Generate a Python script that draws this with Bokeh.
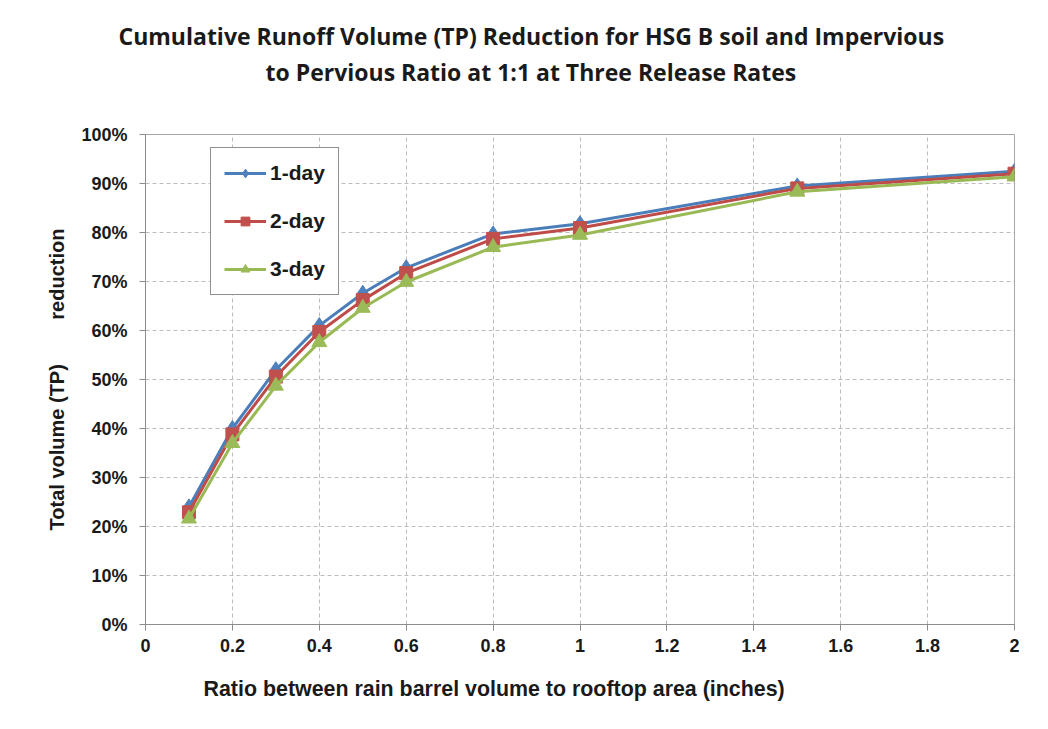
from bokeh.plotting import figure
from bokeh.models import (Range1d, Legend, LegendItem, FixedTicker, Title,
                          PrintfTickFormatter, ColumnDataSource)
from bokeh.embed import file_html
from bokeh.resources import INLINE

# ---- data ----
ratio = [0.1, 0.2, 0.3, 0.4, 0.5, 0.6, 0.8, 1.0, 1.5, 2.0]
one_day = [24.0, 40.0, 52.0, 61.0, 67.6, 72.8, 79.7, 81.8, 89.5, 92.5]
two_day = [22.9, 38.8, 50.6, 59.7, 66.2, 71.7, 78.7, 80.9, 89.0, 92.0]
three_day = [21.6, 37.0, 48.7, 57.6, 64.6, 69.9, 77.0, 79.5, 88.3, 91.4]
series_names = ["1-day", "2-day", "3-day"]
x_ticks = [0, 0.2, 0.4, 0.6, 0.8, 1.0, 1.2, 1.4, 1.6, 1.8, 2.0]
y_ticks = [0, 10, 20, 30, 40, 50, 60, 70, 80, 90, 100]
title_lines = ["Cumulative Runoff Volume (TP) Reduction for HSG B soil  and Impervious",
               "to Pervious Ratio at 1:1 at Three Release Rates"]
x_label = "Ratio between rain barrel volume to rooftop area (inches)"
y_label = "Total volume (TP)" + "\u00a0" * 8 + "reduction"

FONT = "Liberation Sans"
TXT = "#1a1a1a"

p = figure(width=1040, height=720, output_backend="svg", toolbar_location=None,
           x_range=Range1d(0, 2), y_range=Range1d(0, 100),
           min_border_left=145, min_border_right=26, min_border_top=134,
           min_border_bottom=95)
p.title = None
p.background_fill_color = "white"
p.border_fill_color = "white"
p.outline_line_color = "#a6a6a6"
p.outline_line_width = 1

# grid
for g in (p.xgrid, p.ygrid):
    g.grid_line_color = "#bdbdbd"
    g.grid_line_dash = "4 3"
    g.grid_line_width = 1
p.xgrid.ticker = FixedTicker(ticks=x_ticks)
p.ygrid.ticker = FixedTicker(ticks=y_ticks)

# axes
p.xaxis.ticker = FixedTicker(ticks=x_ticks)
p.yaxis.ticker = FixedTicker(ticks=y_ticks)
p.yaxis.formatter = PrintfTickFormatter(format="%d%%")
for ax in (p.xaxis[0], p.yaxis[0]):
    ax.axis_line_color = "#8c8c8c"
    ax.major_tick_line_color = "#8c8c8c"
    ax.major_tick_out = 6
    ax.major_tick_in = 0
    ax.minor_tick_line_color = None
    ax.major_label_text_font = FONT
    ax.major_label_text_font_style = "bold"
    ax.major_label_text_font_size = "18px"
    ax.major_label_text_color = TXT
p.xaxis.major_label_standoff = 8
p.yaxis.major_label_standoff = 12
p.yaxis.axis_label = y_label
p.yaxis.axis_label_text_font = FONT
p.yaxis.axis_label_text_font_style = "bold"
p.yaxis.axis_label_text_font_size = "20px"
p.yaxis.axis_label_text_color = TXT
p.yaxis.axis_label_standoff = 10

colors_line = ["#4A7EBB", "#BE4B48", "#98B954"]
colors_fill = ["#4F81BD", "#C0504D", "#9BBB59"]
all_values = [one_day, two_day, three_day]
markers = ["diamond", "square", "triangle"]
sizes = [16, 13, 15]

items = []
for name, vals, lc, fc, mk, sz in zip(series_names, all_values, colors_line,
                                      colors_fill, markers, sizes):
    src = ColumnDataSource(dict(x=ratio, y=vals))
    r1 = p.line("x", "y", source=src, line_color=lc, line_width=3)
    r2 = p.scatter("x", "y", source=src, marker=mk, size=sz, fill_color=fc,
                   line_color=fc)
    items.append(LegendItem(label=name, renderers=[r1, r2]))

legend = Legend(items=items, location=(65, 329))
legend.label_text_font = FONT
legend.label_text_font_style = "bold"
legend.label_text_font_size = "21px"
legend.label_text_color = TXT
legend.glyph_width = 42
legend.glyph_height = 22
legend.label_height = 22
legend.label_standoff = 4
legend.spacing = 24
legend.padding = 13
legend.margin = 0
legend.border_line_color = "#222222"
legend.border_line_width = 1
legend.background_fill_color = "white"
legend.background_fill_alpha = 1
p.add_layout(legend, "center")

# titles: an empty spacer next to the frame, then line 2, then line 1
spacer = Title(text="\u00a0", standoff=29, text_font="Open Sans",
               text_font_size="10px", text_color="white")
t2 = Title(text=title_lines[1], align="left", offset=120, standoff=4,
           text_font="Open Sans", text_font_style="bold", text_font_size="23px",
           text_color=TXT)
t1 = Title(text=title_lines[0], align="left", offset=-27, standoff=0,
           text_font="Open Sans", text_font_style="bold", text_font_size="23px",
           text_color=TXT)
p.add_layout(spacer, "above")
p.add_layout(t2, "above")
p.add_layout(t1, "above")

xl = Title(text=x_label, align="left", offset=58, standoff=40,
           text_font=FONT, text_font_style="bold", text_font_size="21.4px",
           text_color=TXT)
p.add_layout(xl, "below")

open("out.html", "w").write(file_html(p, INLINE))
